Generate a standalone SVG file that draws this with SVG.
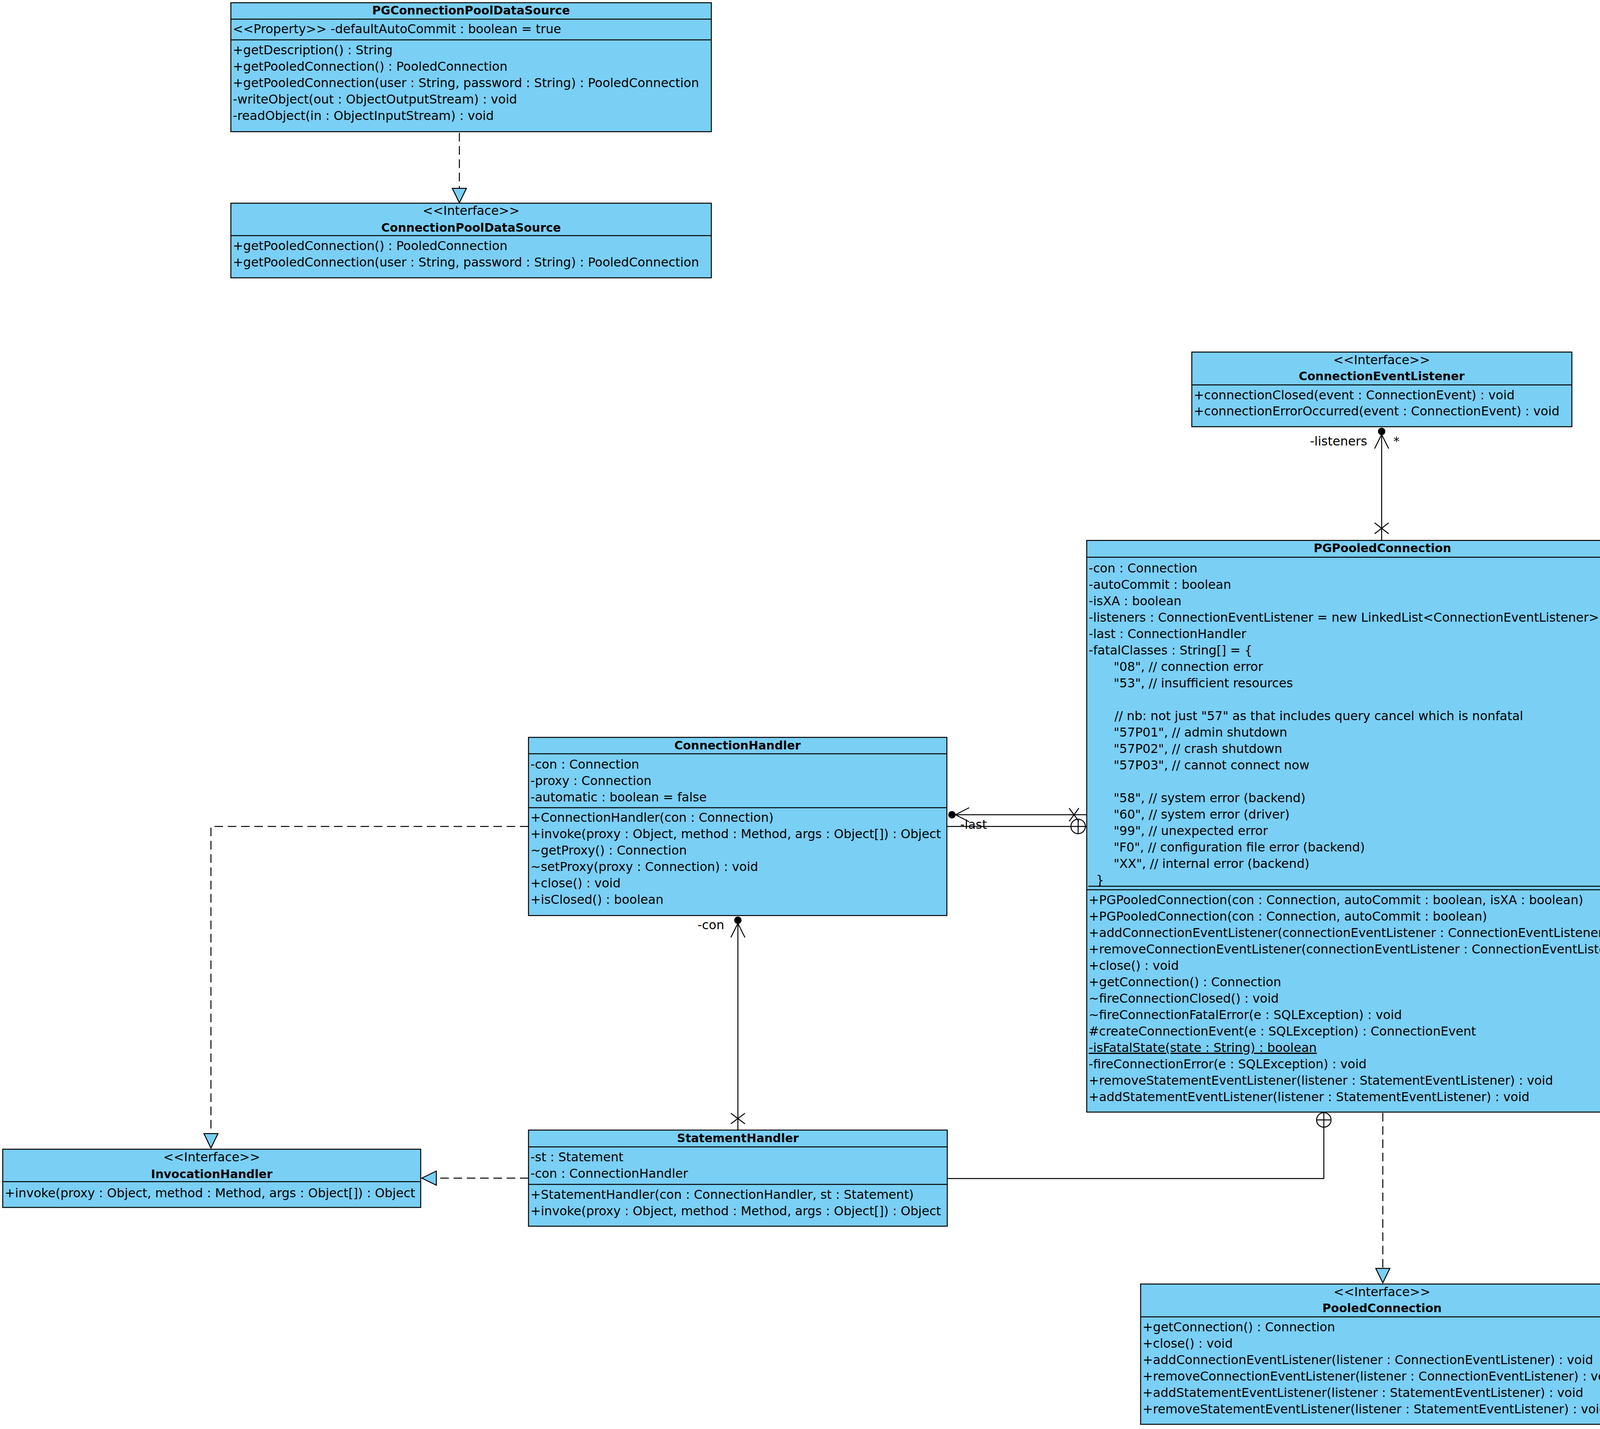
<svg xmlns="http://www.w3.org/2000/svg" width="4308" height="3657" viewBox="0 0 4308 3657">
<style>
.box{fill:#7ACFF5;stroke:#000;stroke-width:2.5}
.div{stroke:#000;stroke-width:2.5;fill:none}
.ln{stroke:#000;stroke-width:2.5;fill:none}
.dash{stroke-dasharray:22 12}
.tri{fill:#7ACFF5;stroke:#000;stroke-width:2.5;stroke-linejoin:miter}
.dot{fill:#000;stroke:none}
text{font-family:"DejaVu Sans","Liberation Sans",sans-serif;font-size:31.7px;fill:#000}
.t{font-weight:bold;font-size:30px;text-anchor:middle}
.st{text-anchor:middle}
.ul{text-decoration:underline}
</style>
<rect width="4308" height="3657" fill="#fff"/>

<g id="PGConnectionPoolDataSource">
<rect class="box" x="591" y="7" width="1230" height="330"/>
<line class="div" x1="591" y1="49" x2="1821" y2="49"/>
<line class="div" x1="591" y1="102" x2="1821" y2="102"/>
<text class="t" x="1206" y="37">PGConnectionPoolDataSource</text>
<text x="596" y="85">&lt;&lt;Property&gt;&gt; -defaultAutoCommit : boolean = true</text>
<text x="596" y="139">+getDescription() : String</text>
<text x="596" y="181">+getPooledConnection() : PooledConnection</text>
<text x="596" y="223">+getPooledConnection(user : String, password : String) : PooledConnection</text>
<text x="596" y="265">-writeObject(out : ObjectOutputStream) : void</text>
<text x="596" y="307">-readObject(in : ObjectInputStream) : void</text>
</g>

<g id="ConnectionPoolDataSource">
<rect class="box" x="591" y="520" width="1230" height="191"/>
<line class="div" x1="591" y1="603" x2="1821" y2="603"/>
<text class="st" x="1206" y="550">&lt;&lt;Interface&gt;&gt;</text>
<text class="t" x="1206" y="593">ConnectionPoolDataSource</text>
<text x="596" y="640">+getPooledConnection() : PooledConnection</text>
<text x="596" y="682">+getPooledConnection(user : String, password : String) : PooledConnection</text>
</g>

<g id="ConnectionEventListener">
<rect class="box" x="3051" y="901" width="973" height="191"/>
<line class="div" x1="3051" y1="985" x2="4024" y2="985"/>
<text class="st" x="3537" y="932">&lt;&lt;Interface&gt;&gt;</text>
<text class="t" x="3537" y="973">ConnectionEventListener</text>
<text x="3056" y="1022">+connectionClosed(event : ConnectionEvent) : void</text>
<text x="3056" y="1063">+connectionErrorOccurred(event : ConnectionEvent) : void</text>
</g>

<g id="PGPooledConnection">
<rect class="box" x="2782" y="1383" width="1515" height="1463"/>
<line class="div" x1="2782" y1="1426" x2="4297" y2="1426"/>
<line class="div" x1="2786" y1="2268" x2="4297" y2="2268"/>
<line class="div" x1="2782" y1="2277" x2="4297" y2="2277"/>
<text class="t" x="3539" y="1413">PGPooledConnection</text>
<text x="2787" y="1465">-con : Connection</text>
<text x="2787" y="1507">-autoCommit : boolean</text>
<text x="2787" y="1549">-isXA : boolean</text>
<text x="2787" y="1591">-listeners : ConnectionEventListener = new LinkedList&lt;ConnectionEventListener&gt;()</text>
<text x="2787" y="1633">-last : ConnectionHandler</text>
<text x="2787" y="1675">-fatalClasses : String[] = {</text>
<text x="2851" y="1717">"08", // connection error</text>
<text x="2851" y="1759">"53", // insufficient resources</text>
<text x="2853" y="1843">// nb: not just "57" as that includes query cancel which is nonfatal</text>
<text x="2851" y="1885">"57P01", // admin shutdown</text>
<text x="2851" y="1927">"57P02", // crash shutdown</text>
<text x="2851" y="1969">"57P03", // cannot connect now</text>
<text x="2851" y="2053">"58", // system error (backend)</text>
<text x="2851" y="2095">"60", // system error (driver)</text>
<text x="2851" y="2137">"99", // unexpected error</text>
<text x="2851" y="2179">"F0", // configuration file error (backend)</text>
<text x="2851" y="2221">"XX", // internal error (backend)</text>
<text x="2806" y="2263">}</text>
<text x="2787" y="2314">+PGPooledConnection(con : Connection, autoCommit : boolean, isXA : boolean)</text>
<text x="2787" y="2356">+PGPooledConnection(con : Connection, autoCommit : boolean)</text>
<text x="2787" y="2398">+addConnectionEventListener(connectionEventListener : ConnectionEventListener) : void</text>
<text x="2787" y="2440">+removeConnectionEventListener(connectionEventListener : ConnectionEventListener) : void</text>
<text x="2787" y="2482">+close() : void</text>
<text x="2787" y="2524">+getConnection() : Connection</text>
<text x="2787" y="2566">~fireConnectionClosed() : void</text>
<text x="2787" y="2608">~fireConnectionFatalError(e : SQLException) : void</text>
<text x="2787" y="2650">#createConnectionEvent(e : SQLException) : ConnectionEvent</text>
<text class="ul" x="2787" y="2692">-isFatalState(state : String) : boolean</text>
<text x="2787" y="2734">-fireConnectionError(e : SQLException) : void</text>
<text x="2787" y="2776">+removeStatementEventListener(listener : StatementEventListener) : void</text>
<text x="2787" y="2818">+addStatementEventListener(listener : StatementEventListener) : void</text>
</g>

<g id="ConnectionHandler">
<rect class="box" x="1353" y="1887" width="1071" height="456"/>
<line class="div" x1="1353" y1="1929" x2="2424" y2="1929"/>
<line class="div" x1="1353" y1="2067" x2="2424" y2="2067"/>
<text class="t" x="1888" y="1918">ConnectionHandler</text>
<text x="1358" y="1967">-con : Connection</text>
<text x="1358" y="2009">-proxy : Connection</text>
<text x="1358" y="2051">-automatic : boolean = false</text>
<text x="1358" y="2103">+ConnectionHandler(con : Connection)</text>
<text x="1358" y="2145">+invoke(proxy : Object, method : Method, args : Object[]) : Object</text>
<text x="1358" y="2187">~getProxy() : Connection</text>
<text x="1358" y="2229">~setProxy(proxy : Connection) : void</text>
<text x="1358" y="2271">+close() : void</text>
<text x="1358" y="2313">+isClosed() : boolean</text>
</g>

<g id="StatementHandler">
<rect class="box" x="1353" y="2892" width="1072" height="246"/>
<line class="div" x1="1353" y1="2935" x2="2425" y2="2935"/>
<line class="div" x1="1353" y1="3031" x2="2425" y2="3031"/>
<text class="t" x="1889" y="2923">StatementHandler</text>
<text x="1358" y="2972">-st : Statement</text>
<text x="1358" y="3014">-con : ConnectionHandler</text>
<text x="1358" y="3068">+StatementHandler(con : ConnectionHandler, st : Statement)</text>
<text x="1358" y="3110">+invoke(proxy : Object, method : Method, args : Object[]) : Object</text>
</g>

<g id="InvocationHandler">
<rect class="box" x="7" y="2941" width="1070" height="149"/>
<line class="div" x1="7" y1="3024" x2="1077" y2="3024"/>
<text class="st" x="542" y="2972">&lt;&lt;Interface&gt;&gt;</text>
<text class="t" x="542" y="3015">InvocationHandler</text>
<text x="12" y="3064">+invoke(proxy : Object, method : Method, args : Object[]) : Object</text>
</g>

<g id="PooledConnection">
<rect class="box" x="2920" y="3286" width="1237" height="359"/>
<line class="div" x1="2920" y1="3370" x2="4157" y2="3370"/>
<text class="st" x="3538" y="3317">&lt;&lt;Interface&gt;&gt;</text>
<text class="t" x="3538" y="3358">PooledConnection</text>
<text x="2925" y="3407">+getConnection() : Connection</text>
<text x="2925" y="3449">+close() : void</text>
<text x="2925" y="3491">+addConnectionEventListener(listener : ConnectionEventListener) : void</text>
<text x="2925" y="3533">+removeConnectionEventListener(listener : ConnectionEventListener) : void</text>
<text x="2925" y="3575">+addStatementEventListener(listener : StatementEventListener) : void</text>
<text x="2925" y="3617">+removeStatementEventListener(listener : StatementEventListener) : void</text>
</g>

<g id="connectors">
<line class="ln dash" x1="1176" y1="340" x2="1176" y2="482"/>
<polygon class="tri" points="1158,482 1194,482 1176,519"/>

<line class="ln" x1="3537" y1="1383" x2="3537" y2="1105"/>
<circle class="dot" cx="3537" cy="1104" r="9.5"/>
<polyline class="ln" points="3519,1148 3537,1112 3555,1148"/>
<line class="ln" x1="3519" y1="1338" x2="3555" y2="1366"/>
<line class="ln" x1="3555" y1="1338" x2="3519" y2="1366"/>
<text x="3500" y="1140" text-anchor="end">-listeners</text>
<text x="3567" y="1140">*</text>

<line class="ln" x1="2437" y1="2085" x2="2781" y2="2085"/>
<circle class="dot" cx="2437" cy="2085" r="9.5"/>
<polyline class="ln" points="2481,2067 2446,2085 2481,2103"/>
<line class="ln" x1="2737" y1="2068" x2="2762" y2="2102"/>
<line class="ln" x1="2762" y1="2068" x2="2737" y2="2102"/>
<text x="2458" y="2121">-last</text>

<line class="ln" x1="2424" y1="2115" x2="2781" y2="2115"/>
<circle class="ln" cx="2760" cy="2115" r="18.5"/>
<line class="ln" x1="2760" y1="2096" x2="2760" y2="2134"/>

<line class="ln" x1="1889" y1="2892" x2="1889" y2="2356"/>
<circle class="dot" cx="1889" cy="2355" r="9.5"/>
<polyline class="ln" points="1871,2399 1889,2363 1907,2399"/>
<line class="ln" x1="1871" y1="2849" x2="1907" y2="2876"/>
<line class="ln" x1="1907" y1="2849" x2="1871" y2="2876"/>
<text x="1854" y="2378" text-anchor="end">-con</text>

<polyline class="ln" points="2425,3016 3389,3016 3389,2846"/>
<circle class="ln" cx="3389" cy="2866" r="18.5"/>
<line class="ln" x1="3370" y1="2866" x2="3408" y2="2866"/>

<line class="ln dash" x1="3540" y1="2848" x2="3540" y2="3246"/>
<polygon class="tri" points="3522,3246 3558,3246 3540,3283"/>

<polyline class="ln dash" points="1353,2115 540,2115 540,2901"/>
<polygon class="tri" points="522,2901 558,2901 540,2938"/>

<line class="ln dash" x1="1353" y1="3015" x2="1117" y2="3015"/>
<polygon class="tri" points="1117,2997 1117,3033 1080,3015"/>
</g>
</svg>
